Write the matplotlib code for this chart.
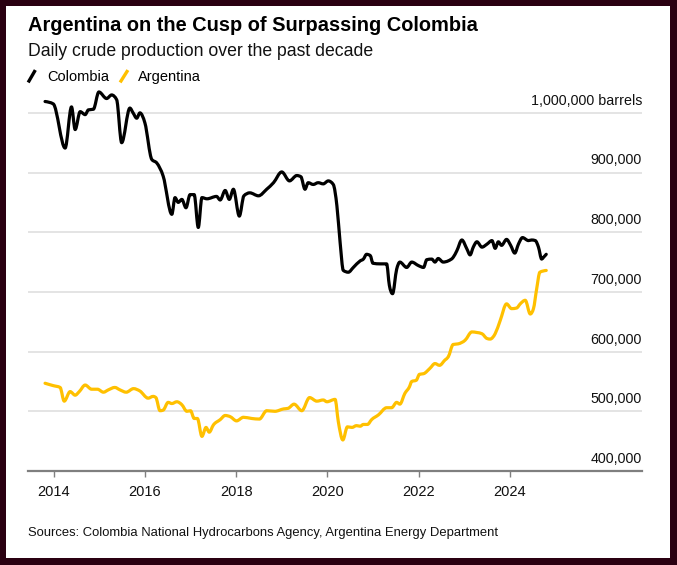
import numpy as np
import matplotlib
matplotlib.use("Agg")
import matplotlib.pyplot as plt
from matplotlib.lines import Line2D
from matplotlib.patches import Rectangle, PathPatch
from matplotlib.path import Path

plt.rcParams["font.family"] = ["Liberation Sans", "DejaVu Sans"]

# daily crude production, thousand barrels
colombia_dates = [
    2013.81, 2013.99, 2014.25, 2014.39, 2014.47, 2014.58, 2014.69, 2014.76, 2014.87, 2014.99,
    2015.16, 2015.27, 2015.38, 2015.49, 2015.67, 2015.74, 2015.82, 2015.89, 2016.00, 2016.15,
    2016.26, 2016.40, 2016.59, 2016.66, 2016.73, 2016.81, 2016.90, 2016.99, 2017.08, 2017.17,
    2017.25, 2017.36, 2017.57, 2017.65, 2017.76, 2017.85, 2017.94, 2018.07, 2018.17, 2018.30,
    2018.49, 2018.67, 2018.82, 2019.00, 2019.17, 2019.33, 2019.42, 2019.51, 2019.58, 2019.69,
    2019.80, 2019.91, 2020.02, 2020.13, 2020.21, 2020.28, 2020.35, 2020.46, 2020.57, 2020.72,
    2020.79, 2020.86, 2020.94, 2021.00, 2021.16, 2021.30, 2021.36, 2021.43, 2021.52, 2021.59,
    2021.74, 2021.85, 2022.00, 2022.11, 2022.18, 2022.29, 2022.36, 2022.43, 2022.54, 2022.65,
    2022.76, 2022.84, 2022.95, 2023.06, 2023.13, 2023.20, 2023.28, 2023.39, 2023.50, 2023.61,
    2023.68, 2023.75, 2023.82, 2023.93, 2024.02, 2024.11, 2024.19, 2024.28, 2024.41, 2024.48,
    2024.56, 2024.63, 2024.70, 2024.74, 2024.80,
]
colombia_values = [
    1019, 1015, 941, 1010, 972, 1002, 997, 1005, 1006, 1035,
    1024, 1030, 1022, 950, 1008, 1000, 991, 1000, 983, 922,
    916, 894, 830, 858, 850, 855, 841, 863, 863, 808,
    858, 856, 860, 854, 870, 855, 872, 827, 861, 866,
    861, 872, 883, 901, 886, 895, 893, 872, 883, 880,
    883, 881, 886, 880, 844, 783, 736, 733, 741, 752,
    755, 763, 761, 748, 747, 747, 711, 697, 738, 750,
    741, 750, 744, 741, 754, 755, 750, 756, 750, 752,
    758, 769, 787, 772, 762, 775, 784, 775, 780, 786,
    773, 784, 778, 788, 778, 765, 780, 791, 786, 787,
    786, 775, 755, 758, 763,
]

argentina_dates = [
    2013.81, 2013.99, 2014.14, 2014.23, 2014.36, 2014.47, 2014.56, 2014.69, 2014.83, 2014.96,
    2015.09, 2015.20, 2015.34, 2015.45, 2015.59, 2015.75, 2015.89, 2016.07, 2016.18, 2016.24,
    2016.33, 2016.40, 2016.51, 2016.59, 2016.70, 2016.81, 2016.92, 2017.00, 2017.08, 2017.15,
    2017.25, 2017.34, 2017.41, 2017.50, 2017.65, 2017.76, 2017.87, 2018.01, 2018.16, 2018.34,
    2018.51, 2018.67, 2018.85, 2019.04, 2019.14, 2019.27, 2019.44, 2019.61, 2019.77, 2019.91,
    2019.99, 2020.17, 2020.24, 2020.34, 2020.44, 2020.54, 2020.64, 2020.72, 2020.79, 2020.88,
    2020.97, 2021.12, 2021.30, 2021.41, 2021.52, 2021.59, 2021.70, 2021.80, 2021.85, 2021.95,
    2022.02, 2022.11, 2022.25, 2022.36, 2022.46, 2022.58, 2022.65, 2022.76, 2022.87, 2023.02,
    2023.17, 2023.28, 2023.39, 2023.50, 2023.57, 2023.68, 2023.79, 2023.93, 2024.04, 2024.15,
    2024.23, 2024.34, 2024.45, 2024.52, 2024.59, 2024.66, 2024.80,
]
argentina_values = [
    547, 543, 540, 517, 533, 527, 533, 544, 537, 537,
    532, 536, 540, 536, 532, 538, 534, 522, 525, 523,
    501, 502, 515, 513, 516, 511, 500, 501, 488, 488,
    458, 473, 465, 477, 486, 493, 491, 484, 490, 488,
    487, 501, 500, 504, 505, 512, 501, 523, 517, 519,
    516, 520, 483, 452, 474, 473, 476, 475, 478, 478,
    486, 494, 506, 506, 515, 512, 530, 541, 550, 552,
    562, 563, 572, 580, 577, 586, 591, 612, 613, 619,
    633, 632, 630, 622, 621, 630, 652, 680, 672, 673,
    680, 686, 663, 672, 705, 733, 736,
]

year_ticks = [2014, 2016, 2018, 2020, 2022, 2024]
value_ticks = [400, 500, 600, 700, 800, 900, 1000]
value_labels = ["400,000", "500,000", "600,000", "700,000", "800,000", "900,000",
                "1,000,000 barrels"]


def monotone_path(xs, ys):
    # smooth curve through the points, same idea as d3.curveMonotoneX
    x = np.asarray(xs, float)
    y = np.asarray(ys, float)
    h = np.diff(x)
    s = np.diff(y) / h
    m = np.zeros_like(x)
    for i in range(1, len(x) - 1):
        p = (s[i - 1] * h[i] + s[i] * h[i - 1]) / (h[i - 1] + h[i])
        m[i] = (np.sign(s[i - 1]) + np.sign(s[i])) * min(abs(s[i - 1]), abs(s[i]), 0.5 * abs(p))
    m[0] = (3 * s[0] - m[1]) / 2
    m[-1] = (3 * s[-1] - m[-2]) / 2
    verts = [(x[0], y[0])]
    codes = [Path.MOVETO]
    for i in range(len(h)):
        d = h[i] / 3
        verts += [(x[i] + d, y[i] + m[i] * d), (x[i + 1] - d, y[i + 1] - m[i + 1] * d),
                  (x[i + 1], y[i + 1])]
        codes += [Path.CURVE4] * 3
    return Path(verts, codes)


W, H = 677, 565
fig = plt.figure(figsize=(W / 100, H / 100), dpi=100)
fig.patch.set_facecolor("#2a0011")
fig.add_artist(Rectangle((6 / W, 1 - 558 / H), 664 / W, 552 / H,
                         transform=fig.transFigure, facecolor="white",
                         edgecolor="none", zorder=-10))

ax = fig.add_axes([28 / W, 94 / H, 614 / W, 388 / H])
ax.set_facecolor("none")
ax.set_xlim(2013.436, 2026.9)
ax.set_ylim(400, 1050)

for v, lab in zip(value_ticks, value_labels):
    if v > 400:
        ax.axhline(v, color="#dcdcdc", lw=1.1, zorder=1)
    ax.annotate(lab, xy=(1.0, v), xycoords=("axes fraction", "data"),
                xytext=(0, 5.8), textcoords="offset points",
                ha="right", va="baseline", fontsize=10.3, color="#111111")

for xs, ys, col in [(colombia_dates, colombia_values, "black"),
                    (argentina_dates, argentina_values, "#ffc000")]:
    ax.add_patch(PathPatch(monotone_path(xs, ys), facecolor="none", edgecolor=col,
                           lw=2.3, joinstyle="round", capstyle="round", zorder=3))

for s in ["top", "right", "left"]:
    ax.spines[s].set_visible(False)
ax.spines["bottom"].set_color("#7f7f7f")
ax.spines["bottom"].set_linewidth(1.6)
ax.set_yticks([])
ax.set_xticks(year_ticks)
ax.set_xticklabels([str(y) for y in year_ticks])
ax.tick_params(axis="x", direction="out", length=4.3, width=1, color="#7f7f7f",
               pad=6, labelsize=10.5, labelcolor="#111111")

# header
fig.text(28 / W, 1 - 31 / H, "Argentina on the Cusp of Surpassing Colombia",
         fontsize=14.4, fontweight="bold", va="baseline", ha="left")
fig.text(28 / W, 1 - 56.5 / H, "Daily crude production over the past decade",
         fontsize=12.7, va="baseline", ha="left", color="#111111")

# legend with slanted strokes
fig.add_artist(Line2D([29 / W, 34.5 / W], [1 - 81 / H, 1 - 71.5 / H],
                      transform=fig.transFigure, color="black", lw=2.4))
fig.text(47 / W, 1 - 81 / H, "Colombia", fontsize=10.5, va="baseline")
fig.add_artist(Line2D([121 / W, 127 / W], [1 - 81 / H, 1 - 71.5 / H],
                      transform=fig.transFigure, color="#ffc000", lw=2.4))
fig.text(138 / W, 1 - 81 / H, "Argentina", fontsize=10.5, va="baseline")

fig.text(28 / W, 1 - 536 / H,
         "Sources: Colombia National Hydrocarbons Agency, Argentina Energy Department",
         fontsize=9.35, va="baseline", ha="left", color="#111111")

fig.savefig("out.png", dpi=100, facecolor=fig.get_facecolor())
